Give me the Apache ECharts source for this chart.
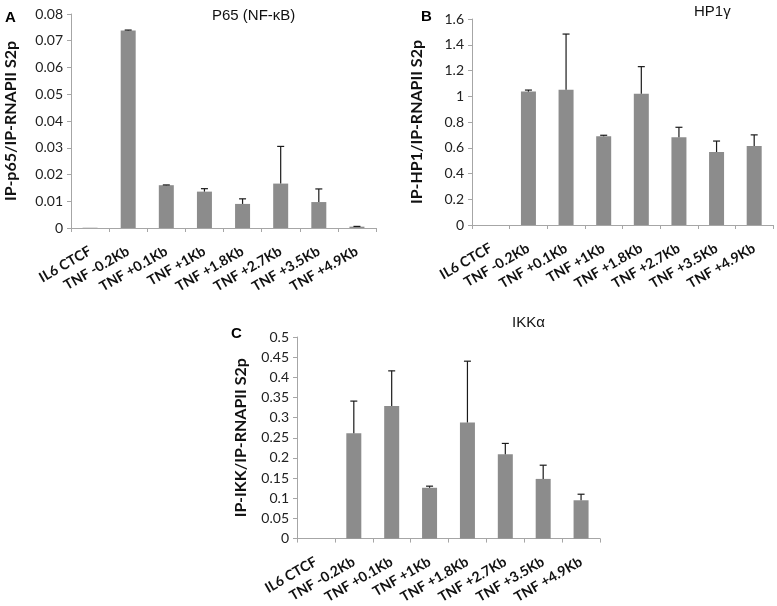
<!DOCTYPE html>
<html>
<head>
  <meta charset="utf-8">
  <title>ChIP ratios</title>
  <script src="https://cdn.jsdelivr.net/npm/echarts@6/dist/echarts.min.js"></script>
  <style>
    html, body { margin: 0; padding: 0; background: #fff; }
    #chart { width: 777px; height: 606px; }
  </style>
</head>
<body>
  <div id="chart"></div>
  <script>
    var categories = ['IL6 CTCF', 'TNF -0.2Kb', 'TNF +0.1Kb', 'TNF +1Kb', 'TNF +1.8Kb', 'TNF +2.7Kb', 'TNF +3.5Kb', 'TNF +4.9Kb'];

    // panel A: P65 (NF-kB)
    var p65Values = [0.0001, 0.0738, 0.0160, 0.0136, 0.0090, 0.0166, 0.0097, 0.0005];
    var p65Errors = [0, 0.0002, 0.0001, 0.0011, 0.0019, 0.0139, 0.0049, 0.0001];

    // panel B: HP1 gamma
    var hp1Values = [0, 1.036, 1.051, 0.689, 1.020, 0.681, 0.567, 0.614];
    var hp1Errors = [0, 0.012, 0.432, 0.008, 0.210, 0.078, 0.085, 0.086];

    // panel C: IKK alpha
    var ikkValues = [0, 0.261, 0.329, 0.126, 0.288, 0.209, 0.148, 0.095];
    var ikkErrors = [0, 0.080, 0.087, 0.004, 0.152, 0.027, 0.034, 0.015];

    var barColor = '#8c8c8c';
    var axisColor = '#a6a6a6';

    function errData(vals, errs) {
      return vals.map(function (v, i) { return [i, v, errs[i]]; });
    }

    function renderErr(params, api) {
      var e = api.value(2);
      if (!(e > 0)) return;
      var v = api.value(1);
      var p0 = api.coord([api.value(0), v]);
      var p1 = api.coord([api.value(0), v + e]);
      var st = { stroke: '#1a1a1a', lineWidth: 1.2 };
      return {
        type: 'group',
        children: [
          { type: 'line', shape: { x1: p0[0], y1: p0[1], x2: p1[0], y2: p1[1] }, style: st },
          { type: 'line', shape: { x1: p1[0] - 3.5, y1: p1[1], x2: p1[0] + 3.5, y2: p1[1] }, style: st }
        ]
      };
    }

    function xAxisFor(idx) {
      return {
        type: 'category',
        gridIndex: idx,
        data: categories,
        axisLine: { lineStyle: { color: axisColor, width: 1 } },
        axisTick: { show: true, length: 4, lineStyle: { color: axisColor } },
        axisLabel: {
          rotate: 30,
          margin: 22,
          color: '#111',
          fontFamily: 'Lato',
          fontWeight: 'bold',
          fontSize: 14
        },
        splitLine: { show: false }
      };
    }

    function yAxisFor(idx, max, interval, name, gap) {
      return {
        type: 'value',
        gridIndex: idx,
        min: 0,
        max: max,
        interval: interval,
        name: name,
        nameLocation: 'middle',
        nameGap: gap,
        nameTextStyle: { fontFamily: 'Lato', fontWeight: 'bold', fontSize: 16, color: '#111' },
        axisLine: { show: true, lineStyle: { color: axisColor, width: 1 } },
        axisTick: { show: true, length: 4, lineStyle: { color: axisColor } },
        axisLabel: { margin: 8, color: '#222', fontFamily: 'Lato', fontSize: 14 },
        splitLine: { show: false }
      };
    }

    function barSeries(idx, vals) {
      return {
        type: 'bar',
        xAxisIndex: idx,
        yAxisIndex: idx,
        data: vals,
        barWidth: 15,
        itemStyle: { color: barColor },
        silent: true
      };
    }

    function errSeries(idx, vals, errs) {
      return {
        type: 'custom',
        xAxisIndex: idx,
        yAxisIndex: idx,
        data: errData(vals, errs),
        renderItem: renderErr,
        z: 5,
        silent: true
      };
    }

    var chart = echarts.init(document.getElementById('chart'), null, { renderer: 'canvas' });

    var titleFont = { fontFamily: 'Liberation Sans', fontWeight: 'normal', fontSize: 15, color: '#111' };
    var letterFont = { fontFamily: 'Liberation Sans', fontWeight: 'bold', fontSize: 15, color: '#000' };

    var option = {
      animation: false,
      backgroundColor: '#fff',
      title: [
        { text: 'P65 (NF-κB)', left: 212, top: 8, textStyle: titleFont, padding: 0 },
        { text: 'HP1γ', left: 694, top: 4, textStyle: titleFont, padding: 0 },
        { text: 'IKKα', left: 512, top: 315, textStyle: titleFont, padding: 0 },
        { text: 'A', left: 5, top: 10, textStyle: letterFont, padding: 0 },
        { text: 'B', left: 421, top: 9, textStyle: letterFont, padding: 0 },
        { text: 'C', left: 231, top: 326, textStyle: letterFont, padding: 0 }
      ],
      grid: [
        { left: 71, right: 401, top: 14, bottom: 378 },
        { left: 472, right: 4, top: 19, bottom: 381 },
        { left: 297, right: 177, top: 337, bottom: 65 }
      ],
      xAxis: [xAxisFor(0), xAxisFor(1), xAxisFor(2)],
      yAxis: [
        yAxisFor(0, 0.08, 0.01, 'IP-p65/IP-RNAPII S2p', 52),
        yAxisFor(1, 1.6, 0.2, 'IP-HP1/IP-RNAPII S2p', 47),
        yAxisFor(2, 0.5, 0.05, 'IP-IKK/IP-RNAPII S2p', 48)
      ],
      series: [
        barSeries(0, p65Values), errSeries(0, p65Values, p65Errors),
        barSeries(1, hp1Values), errSeries(1, hp1Values, hp1Errors),
        barSeries(2, ikkValues), errSeries(2, ikkValues, ikkErrors)
      ]
    };

    chart.setOption(option);
  </script>
</body>
</html>
